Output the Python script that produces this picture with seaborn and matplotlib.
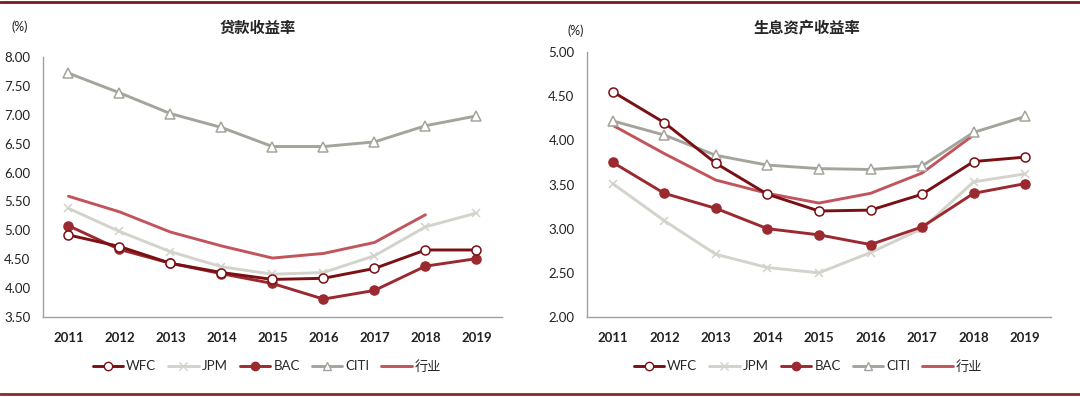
import numpy as np
import pandas as pd
import seaborn as sns
from matplotlib import pyplot as plt
from matplotlib.lines import Line2D

years = ['2011', '2012', '2013', '2014', '2015', '2016', '2017', '2018', '2019']

# 贷款收益率
loan_wfc = [4.92, 4.72, 4.43, 4.27, 4.15, 4.17, 4.34, 4.66, 4.66]
loan_jpm = [5.38, 4.98, 4.63, 4.37, 4.24, 4.27, 4.56, 5.06, 5.30]
loan_bac = [5.08, 4.67, 4.43, 4.25, 4.08, 3.81, 3.96, 4.38, 4.51]
loan_citi = [7.72, 7.38, 7.02, 6.78, 6.45, 6.45, 6.53, 6.81, 6.98]
loan_ind = [5.59, 5.32, 4.97, 4.73, 4.52, 4.60, 4.79, 5.27, np.nan]

# 生息资产收益率
asset_wfc = [4.55, 4.20, 3.74, 3.39, 3.20, 3.21, 3.39, 3.76, 3.81]
asset_jpm = [3.51, 3.09, 2.71, 2.56, 2.50, 2.73, 3.00, 3.53, 3.62]
asset_bac = [3.75, 3.40, 3.23, 3.00, 2.93, 2.82, 3.02, 3.40, 3.51]
asset_citi = [4.22, 4.06, 3.83, 3.72, 3.68, 3.67, 3.71, 4.09, 4.27]
asset_ind = [4.17, 3.85, 3.55, 3.40, 3.29, 3.40, 3.63, 4.06, np.nan]

series = ['WFC', 'JPM', 'BAC', 'CITI', '行业']
styles = {
    'WFC':  dict(color='#7a0f14', marker='o', mfc='white', mec='#7a0f14', ms=6.5),
    'JPM':  dict(color='#d3d2cb', marker='x', mfc='#d3d2cb', mec='#d3d2cb', ms=6),
    'BAC':  dict(color='#9a2a2f', marker='o', mfc='#9a2a2f', mec='#9a2a2f', ms=6.5),
    'CITI': dict(color='#a5a49c', marker='^', mfc='white', mec='#a5a49c', ms=6.5),
    '行业': dict(color='#c2555b', marker='', mfc='none', mec='none', ms=0),
}
order = ['行业', 'JPM', 'CITI', 'BAC', 'WFC']

sns.set_style('white')
plt.rcParams['font.family'] = ['Lato', 'Noto Sans CJK SC', 'DejaVu Sans']
FONTS = ['Lato', 'Noto Sans CJK SC', 'DejaVu Sans']

fig = plt.figure(figsize=(10.8, 3.97), dpi=100)
ax1 = fig.add_axes([0.0398, 0.2015, 0.425, 0.655])
ax2 = fig.add_axes([0.5435, 0.2015, 0.4296, 0.6675])


def draw(ax, data, ylim, yticks, title, title_x, pct_x, pct_y, leg_x):
    df = pd.DataFrame(data, index=years).reset_index().rename(columns={'index': 'year'})
    xs = np.arange(len(years))
    for name in order:
        st = styles[name]
        sns.lineplot(x=xs, y=df[name].values, ax=ax, color=st['color'], lw=2.1,
                     marker=st['marker'] or None, markerfacecolor=st['mfc'],
                     markeredgecolor=st['mec'], markersize=st['ms'],
                     markeredgewidth=1.1, zorder=3)
    ax.set_xlim(-0.5, len(years) - 0.5)
    ax.set_ylim(*ylim)
    ax.set_yticks(yticks)
    ax.set_yticklabels(['%.2f' % v for v in yticks], fontsize=9.5, color='#222222')
    ax.set_xticks(xs)
    ax.set_xticklabels(years, fontsize=9.5, fontweight='bold', color='#222222')
    ax.set_xticks(np.arange(-0.5, len(years) + 0.5, 1), minor=True)
    ax.tick_params(axis='x', which='major', length=0, pad=11)
    ax.tick_params(axis='x', which='minor', length=5, color='#a0a0a0', width=0.9)
    ax.tick_params(axis='y', length=0, pad=9)
    for s in ['top', 'right']:
        ax.spines[s].set_visible(False)
    for s in ['left', 'bottom']:
        ax.spines[s].set_color('#a0a0a0')
        ax.spines[s].set_linewidth(1.0)
    ax.set_xlabel('')
    ax.set_ylabel('')
    fig.text(title_x, 0.93, title, ha='center', va='center', fontsize=11,
             fontweight='bold', family=['Noto Sans CJK SC'])
    fig.text(pct_x, pct_y, '(%)', ha='center', va='center', fontsize=9, color='#222222')
    handles = []
    for name in series:
        st = styles[name]
        handles.append(Line2D([], [], color=st['color'], lw=2.1,
                              marker=st['marker'] or None, markerfacecolor=st['mfc'],
                              markeredgecolor=st['mec'], markersize=st['ms'] - 0.5,
                              markeredgewidth=1.0))
    fig.legend(handles, series, loc='center', bbox_to_anchor=(leg_x, 0.078),
               ncol=5, frameon=False, handlelength=2.3,
               columnspacing=0.9, handletextpad=0.25, prop={'family': FONTS, 'size': 9.5})


draw(ax1, {'WFC': loan_wfc, 'JPM': loan_jpm, 'BAC': loan_bac, 'CITI': loan_citi, '行业': loan_ind},
     (3.5, 8.0), np.arange(3.5, 8.01, 0.5), '贷款收益率', 258 / 1080, 20 / 1080, 1 - 27 / 397,
     267 / 1080)
draw(ax2, {'WFC': asset_wfc, 'JPM': asset_jpm, 'BAC': asset_bac, 'CITI': asset_citi, '行业': asset_ind},
     (2.0, 5.0), np.arange(2.0, 5.01, 0.5), '生息资产收益率', 807 / 1080, 576 / 1080, 1 - 31 / 397,
     808 / 1080)

# top and bottom rules
fig.add_artist(Line2D([0, 1], [1 - 1.5 / 397, 1 - 1.5 / 397], color='#7a1a1e', lw=2.0))
fig.add_artist(Line2D([0, 1], [1 - 393.5 / 397, 1 - 393.5 / 397], color='#8a2a2e', lw=2.0))

fig.savefig('out.png', dpi=100)
